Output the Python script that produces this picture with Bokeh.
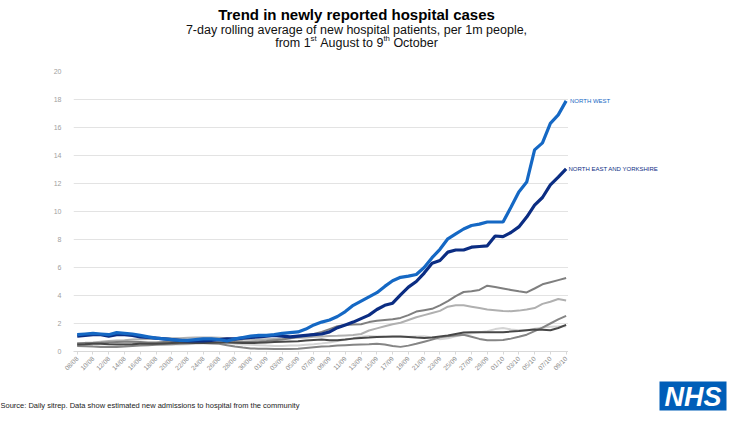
from math import pi
from bokeh.plotting import figure
from bokeh.layouts import column, row
from bokeh.models import Range1d, FixedTicker
from bokeh.core.properties import value
from bokeh.embed import file_html
from bokeh.resources import INLINE

# ---------------- data ----------------
days = list(range(63))  # 08/08 .. 09/10
tick_days = list(range(0, 63, 2))
tick_labels = ["08/08", "10/08", "12/08", "14/08", "16/08", "18/08", "20/08", "22/08",
               "24/08", "26/08", "28/08", "30/08", "01/09", "03/09", "05/09", "07/09",
               "09/09", "11/09", "13/09", "15/09", "17/09", "19/09", "21/09", "23/09",
               "25/09", "27/09", "29/09", "01/10", "03/10", "05/10", "07/10", "09/10"]

north_west = [1.2, 1.25, 1.3, 1.25, 1.2, 1.35, 1.3, 1.25, 1.15, 1.05,
              0.95, 0.9, 0.85, 0.8, 0.8, 0.85, 0.9, 0.9, 0.85, 0.75,
              0.9, 1.0, 1.1, 1.15, 1.15, 1.2, 1.3, 1.35, 1.4, 1.6,
              1.9, 2.1, 2.25, 2.5, 2.85, 3.3, 3.6, 3.9, 4.2, 4.65,
              5.05, 5.3, 5.38, 5.5, 6.0, 6.7, 7.3, 8.05, 8.4, 8.75,
              9.0, 9.1, 9.25, 9.25, 9.25, 10.3, 11.4, 12.1, 14.4, 14.9,
              16.3, 16.9, 17.9]
north_east_yorks = [1.1, 1.15, 1.2, 1.2, 1.1, 1.2, 1.2, 1.15, 1.05, 1.0,
                    0.95, 0.9, 0.85, 0.8, 0.75, 0.75, 0.75, 0.8, 0.85, 0.9,
                    0.9, 0.95, 1.0, 1.05, 1.1, 1.15, 1.1, 1.05, 1.1, 1.15,
                    1.2, 1.25, 1.4, 1.7, 1.9, 2.1, 2.35, 2.6, 3.0, 3.3,
                    3.45, 4.05, 4.6, 5.0, 5.6, 6.3, 6.5, 7.1, 7.25, 7.25,
                    7.45, 7.5, 7.55, 8.25, 8.2, 8.5, 8.9, 9.6, 10.45, 11.0,
                    11.9, 12.45, 13.05]
grey_a = [0.55, 0.6, 0.6, 0.62, 0.65, 0.68, 0.7, 0.7, 0.68, 0.65,
          0.65, 0.68, 0.7, 0.72, 0.75, 0.75, 0.78, 0.8, 0.8, 0.78,
          0.75, 0.72, 0.7, 0.72, 0.75, 0.8, 0.85, 0.95, 1.05, 1.15,
          1.25, 1.4, 1.6, 1.8, 1.9, 1.92, 1.95, 2.1, 2.2, 2.25,
          2.3, 2.4, 2.6, 2.85, 2.95, 3.05, 3.3, 3.6, 3.95, 4.25,
          4.3, 4.4, 4.7, 4.6, 4.5, 4.4, 4.3, 4.22, 4.5, 4.8,
          4.95, 5.1, 5.25]
grey_b = [0.6, 0.62, 0.65, 0.7, 0.75, 0.78, 0.8, 0.85, 0.88, 0.9,
          0.92, 0.95, 0.95, 0.95, 0.98, 1.0, 1.0, 1.0, 0.98, 0.95,
          0.9, 0.88, 0.85, 0.85, 0.88, 0.9, 0.92, 0.95, 0.98, 1.0,
          1.05, 1.08, 1.1, 1.12, 1.15, 1.18, 1.25, 1.5, 1.65, 1.8,
          1.95, 2.05, 2.25, 2.45, 2.6, 2.75, 2.9, 3.2, 3.3, 3.3,
          3.2, 3.1, 3.0, 2.95, 2.9, 2.88, 2.92, 3.0, 3.1, 3.4,
          3.55, 3.75, 3.65]
grey_c = [0.4, 0.38, 0.35, 0.33, 0.32, 0.32, 0.35, 0.4, 0.42, 0.45,
          0.48, 0.5, 0.52, 0.55, 0.58, 0.6, 0.6, 0.58, 0.55, 0.45,
          0.35, 0.28, 0.22, 0.2, 0.2, 0.18, 0.18, 0.18, 0.2, 0.25,
          0.3, 0.35, 0.38, 0.42, 0.45, 0.48, 0.5, 0.52, 0.55, 0.5,
          0.4, 0.33, 0.42, 0.55, 0.7, 0.85, 1.02, 1.08, 1.15, 1.2,
          1.05, 0.9, 0.8, 0.8, 0.82, 0.92, 1.05, 1.2, 1.45, 1.7,
          2.0, 2.3, 2.55]
grey_d = [0.5, 0.52, 0.55, 0.55, 0.52, 0.5, 0.5, 0.52, 0.55, 0.55,
          0.55, 0.58, 0.6, 0.62, 0.62, 0.6, 0.6, 0.62, 0.65, 0.65,
          0.62, 0.6, 0.6, 0.62, 0.65, 0.68, 0.7, 0.72, 0.73, 0.78,
          0.83, 0.85, 0.8, 0.8, 0.85, 0.92, 0.97, 1.0, 1.04, 1.06,
          1.08, 1.08, 1.04, 1.0, 0.97, 1.0, 1.08, 1.15, 1.25, 1.35,
          1.37, 1.37, 1.37, 1.37, 1.38, 1.42, 1.46, 1.52, 1.57, 1.55,
          1.52, 1.68, 1.9]
grey_e = [0.45, 0.45, 0.48, 0.5, 0.52, 0.55, 0.58, 0.6, 0.6, 0.58,
          0.55, 0.52, 0.5, 0.5, 0.52, 0.55, 0.58, 0.6, 0.62, 0.6,
          0.55, 0.5, 0.48, 0.45, 0.42, 0.4, 0.4, 0.42, 0.43, 0.48,
          0.52, 0.58, 0.65, 0.75, 0.85, 0.95, 1.05, 1.1, 1.08, 1.05,
          1.03, 1.04, 1.06, 1.08, 1.09, 1.0, 0.88, 0.95, 1.08, 1.2,
          1.3, 1.38, 1.45, 1.6, 1.68, 1.58, 1.52, 1.52, 1.62, 1.72,
          1.76, 1.78, 1.8]

y_ticks = list(range(0, 21, 2))

title_text = "Trend in newly reported hospital cases"
subtitle_1 = "7-day rolling average of new hospital patients, per 1m people,"
subtitle_2_parts = ["from 1", "st", "August to 9", "th", "October"]
source_text = "Source: Daily sitrep. Data show estimated new admissions to hospital from the community"
nw_label = "NORTH WEST"
ney_label = "NORTH EAST AND YORKSHIRE"

NW_COLOR = "#1568C4"
NEY_COLOR = "#0B2D83"
FONT = value("Liberation Sans")

TOTAL_W = 740
TOP_H, MAIN_H, BOT_H = 65, 311, 54
MAIN_W = 568
BORDER_T, BORDER_B, BORDER_L = 6, 24, 73


def blank(width, height, xr, yr):
    f = figure(width=width, height=height, output_backend="svg", toolbar_location=None,
               x_range=xr, y_range=yr, x_axis_type=None, y_axis_type=None, min_border=0)
    f.outline_line_color = None
    f.xgrid.grid_line_color = None
    f.ygrid.grid_line_color = None
    return f


# ---------------- header ----------------
top = blank(TOTAL_W, TOP_H, Range1d(0, TOTAL_W), Range1d(TOP_H, 0))
cx = 356
top.text(x=[cx], y=[14], text=[title_text], text_font=FONT, text_font_size="15px",
         text_font_style="bold", text_align="center", text_baseline="middle", text_color="black")
top.text(x=[cx], y=[29], text=[subtitle_1], text_font=FONT, text_font_size="12.5px",
         text_align="center", text_baseline="middle", text_color="#111111")
x0 = cx - 81.3
offsets = [0, 35.4, 45.0, 108.2, 118.2]
sizes = ["12.5px", "7.8px", "12.5px", "7.8px", "12.5px"]
dys = [0, -4, 0, -4, 0]
for txt, dx, sz, dy in zip(subtitle_2_parts, offsets, sizes, dys):
    top.text(x=[x0 + dx], y=[42 + dy], text=[txt], text_font=FONT, text_font_size=sz,
             text_align="left", text_baseline="middle", text_color="#111111")

# ---------------- main chart ----------------
yr = Range1d(0, 20)
p = figure(width=MAIN_W, height=MAIN_H, output_backend="svg", toolbar_location=None,
           x_range=Range1d(-0.47, 62.3), y_range=yr,
           min_border_left=BORDER_L, min_border_right=0,
           min_border_top=BORDER_T, min_border_bottom=BORDER_B)
p.outline_line_color = None

p.yaxis.ticker = FixedTicker(ticks=y_ticks)
p.yaxis.axis_line_color = None
p.yaxis.major_tick_line_color = None
p.yaxis.minor_tick_line_color = None
p.yaxis.major_label_text_font = "Liberation Sans"
p.yaxis.major_label_text_font_size = "7px"
p.yaxis.major_label_text_color = "#a0a0a0"
p.yaxis.major_label_standoff = 6

p.xaxis.ticker = FixedTicker(ticks=tick_days)
p.xaxis.major_label_overrides = {d: l for d, l in zip(tick_days, tick_labels)}
p.xaxis.major_label_orientation = pi / 4
p.xaxis.axis_line_color = "#d9d9d9"
p.xaxis.major_tick_line_color = "#d9d9d9"
p.xaxis.major_tick_out = 3
p.xaxis.major_tick_in = 0
p.xaxis.minor_tick_line_color = None
p.xaxis.major_label_text_font = "Liberation Sans"
p.xaxis.major_label_text_font_size = "6.5px"
p.xaxis.major_label_text_color = "#8a8a8a"
p.xaxis.major_label_standoff = 3

p.xgrid.grid_line_color = None
p.ygrid.grid_line_color = "#e3e3e3"
p.ygrid.ticker = FixedTicker(ticks=y_ticks)

for series, col in [(grey_e, "#d4d4d4"), (grey_b, "#b0b0b0"), (grey_c, "#858585"),
                    (grey_a, "#7f7f7f"), (grey_d, "#474747")]:
    p.line(days, series, line_color=col, line_width=2)
p.line(days, north_east_yorks, line_color=NEY_COLOR, line_width=3.2)
p.line(days, north_west, line_color=NW_COLOR, line_width=3.2)

# ---------------- end labels (shares y range) ----------------
side = figure(width=TOTAL_W - MAIN_W, height=MAIN_H, output_backend="svg", toolbar_location=None,
              x_range=Range1d(0, TOTAL_W - MAIN_W), y_range=yr, x_axis_type=None, y_axis_type=None,
              min_border_left=0, min_border_right=0,
              min_border_top=BORDER_T, min_border_bottom=BORDER_B)
side.outline_line_color = None
side.xgrid.grid_line_color = None
side.ygrid.grid_line_color = None
side.text(x=[1.5], y=[north_west[-1]], text=[nw_label], text_font=FONT, text_font_size="6px",
          text_color=NW_COLOR, text_baseline="middle", text_align="left")
side.text(x=[0], y=[north_east_yorks[-1]], text=[ney_label], text_font=FONT, text_font_size="6px",
          text_color=NEY_COLOR, text_baseline="middle", text_align="left")

# ---------------- footer ----------------
bot = blank(TOTAL_W, BOT_H, Range1d(0, TOTAL_W), Range1d(BOT_H, 0))
bot.text(x=[0], y=[29], text=[source_text], text_font=FONT, text_font_size="7.5px",
         text_align="left", text_baseline="middle", text_color="#222222")
bot.quad(left=[659], right=[726], top=[5], bottom=[34], fill_color="#005EB8", line_color=None)
bot.text(x=[692.5], y=[20], text=["NHS"], text_font=FONT, text_font_size="27px",
         text_font_style="bold italic", text_align="center", text_baseline="middle",
         text_color="white")

layout = column(top, row(p, side, spacing=0), bot, spacing=0)
open("out.html", "w").write(file_html(layout, INLINE))
